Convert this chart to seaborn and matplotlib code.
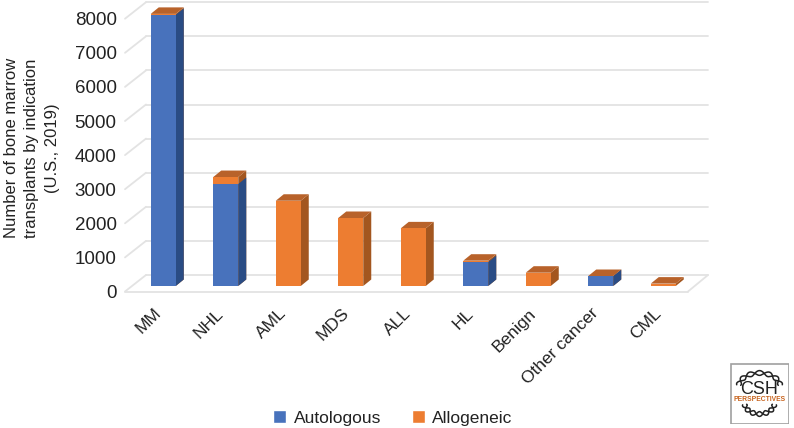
import numpy as np
import pandas as pd
import matplotlib
matplotlib.use("Agg")
import matplotlib.pyplot as plt
import seaborn as sns
from matplotlib.patches import Patch, Polygon, Rectangle
from matplotlib.transforms import ScaledTranslation

W, H = 794, 428

categories = ["MM", "NHL", "AML", "MDS", "ALL", "HL", "Benign", "Other cancer", "CML"]
autologous = [7950, 2990, 0, 0, 0, 700, 0, 293, 0]
allogeneic = [30, 205, 2500, 1994, 1690, 42, 390, 0, 70]
y_ticks = [0, 1000, 2000, 3000, 4000, 5000, 6000, 7000, 8000]

BLUE = "#4872BC"
ORANGE = "#ED7D31"
BLUE_SIDE = "#2A4C84"
ORANGE_SIDE = "#A3561F"
TOP = "#B8622A"
GRID = "#E3E3E3"
TEXT = "#222222"

df = pd.DataFrame({"cat": categories, "auto": autologous, "allo": allogeneic})
df["total"] = df["auto"] + df["allo"]

sns.set_theme(style="white")
plt.rcParams["font.family"] = ["Liberation Sans", "DejaVu Sans"]

fig = plt.figure(figsize=(W / 100, H / 100), dpi=100)
# axes placed in pixels: x 125-710, y 0-298 from the top
ax = fig.add_axes([125 / W, 1 - 298 / H, 585 / W, 298 / H])

# stacked front faces, total first and autologous over it
sns.barplot(data=df, x="cat", y="total", color=ORANGE, saturation=1, width=0.4, ax=ax, zorder=3)
n_total = len(ax.patches)
sns.barplot(data=df, x="cat", y="auto", color=BLUE, saturation=1, width=0.4, ax=ax, zorder=3)

PX_X = 62.5        # pixels per category
PX_Y = 34.1 / 1000  # pixels per value
ax.set_xlim(-38.25 / PX_X, 546.75 / PX_X)
ax.set_ylim(-12 / PX_Y, 286 / PX_Y)


def xp(px):
    return (px - 163.25) / PX_X


def yp(px):
    return px / PX_Y


# depth of the fake 3D columns
dx = xp(8) - xp(0)
dy = yp(6.5)

for i, bar in enumerate(ax.patches):
    bar.set_edgecolor("none")
    x0, w = bar.get_x(), bar.get_width()
    y0, h = bar.get_y(), bar.get_height()
    if h <= 0:
        continue
    x1 = x0 + w
    y1 = y0 + h
    side = ORANGE_SIDE if i < n_total else BLUE_SIDE
    ax.add_patch(Polygon([(x1, y0), (x1 + dx, y0 + dy), (x1 + dx, y1 + dy), (x1, y1)],
                         facecolor=side, edgecolor="none", zorder=2.5 if i < n_total else 2.7))
    if i < n_total:
        ax.add_patch(Polygon([(x0, y1), (x0 + dx, y1 + dy), (x1 + dx, y1 + dy), (x1, y1)],
                             facecolor=TOP, edgecolor="none", zorder=2.9))

# back wall and left wall gridlines
back = yp(11)
front = yp(-5.5)
wall_l, wall_r = xp(146), xp(708)
floor_l, floor_r = xp(125), xp(688)
for t in y_ticks:
    ax.plot([wall_l, wall_r], [t + back, t + back], color=GRID, lw=1.3, zorder=1, clip_on=False)
    ax.plot([floor_l, wall_l], [t + front, t + back], color=GRID, lw=1.3, zorder=1, clip_on=False)
ax.plot([floor_l, floor_r], [front, front], color=GRID, lw=1.3, zorder=1, clip_on=False)
ax.plot([floor_r, wall_r], [front, back], color=GRID, lw=1.3, zorder=1, clip_on=False)

sns.despine(ax=ax, left=True, bottom=True)
ax.set_xlabel("")
ax.set_ylabel("")
ax.set_yticks(y_ticks)
ax.tick_params(axis="both", length=0)
ax.tick_params(axis="y", labelsize=13.5, labelcolor=TEXT, pad=6)
ax.set_xticks(range(len(categories)))
ax.set_xticklabels(categories, rotation=45, ha="right", rotation_mode="anchor",
                   fontsize=12.5, color=TEXT)
ax.tick_params(axis="x", pad=5.5)

# labels follow the front edge of the floor
down = ScaledTranslation(0, -4 / 72, fig.dpi_scale_trans)
for lab in ax.get_yticklabels():
    lab.set_transform(lab.get_transform() + down)
shift = ScaledTranslation(-7 / 72, 0, fig.dpi_scale_trans)
for lab in ax.get_xticklabels():
    lab.set_transform(lab.get_transform() + shift)

fig.text(32 / W, 1 - 148 / H, "Number of bone marrow\ntransplants by indication\n(U.S., 2019)",
         rotation=90, ha="center", va="center", ma="center", fontsize=12, color=TEXT, linespacing=1.42)

handles = [Patch(facecolor=BLUE, label="Autologous"), Patch(facecolor=ORANGE, label="Allogeneic")]
fig.legend(handles=handles, loc="center", bbox_to_anchor=(393 / W, 1 - 418 / H), ncol=2, frameon=False,
           fontsize=12.5, handlelength=0.75, handleheight=0.75, handletextpad=0.44, columnspacing=1.73,
           labelcolor=TEXT)

# CSH Perspectives badge, helix strands are decoration only
logo = fig.add_axes([730 / W, 1 - 424 / H, 59 / W, 61 / H])
logo.set_xlim(0, 59)
logo.set_ylim(0, 61)
logo.axis("off")
logo.add_patch(Rectangle((0.5, 0.5), 58, 60, facecolor="white", edgecolor="#A0A0A0", lw=1.2))
t = np.radians(np.linspace(8, 172, 160))
for phase in (0, np.pi):
    wave = 2.4 * np.sin(t * 7 + phase)
    logo.plot(29.5 + (21 + wave) * np.cos(t), 37 + (14 + wave) * np.sin(t), color="#222222", lw=1.1)
    logo.plot(29.5 + (15 + wave) * np.cos(t), 21 - (11 + wave) * np.sin(t), color="#222222", lw=1.1)
logo.text(29.5, 35, "CSH", ha="center", va="center", fontsize=13, color="#222222")
logo.text(29.5, 24.5, "PERSPECTIVES", ha="center", va="center", fontsize=4.9, color="#C8641E", fontweight="bold")

fig.savefig("out.png", dpi=100)
